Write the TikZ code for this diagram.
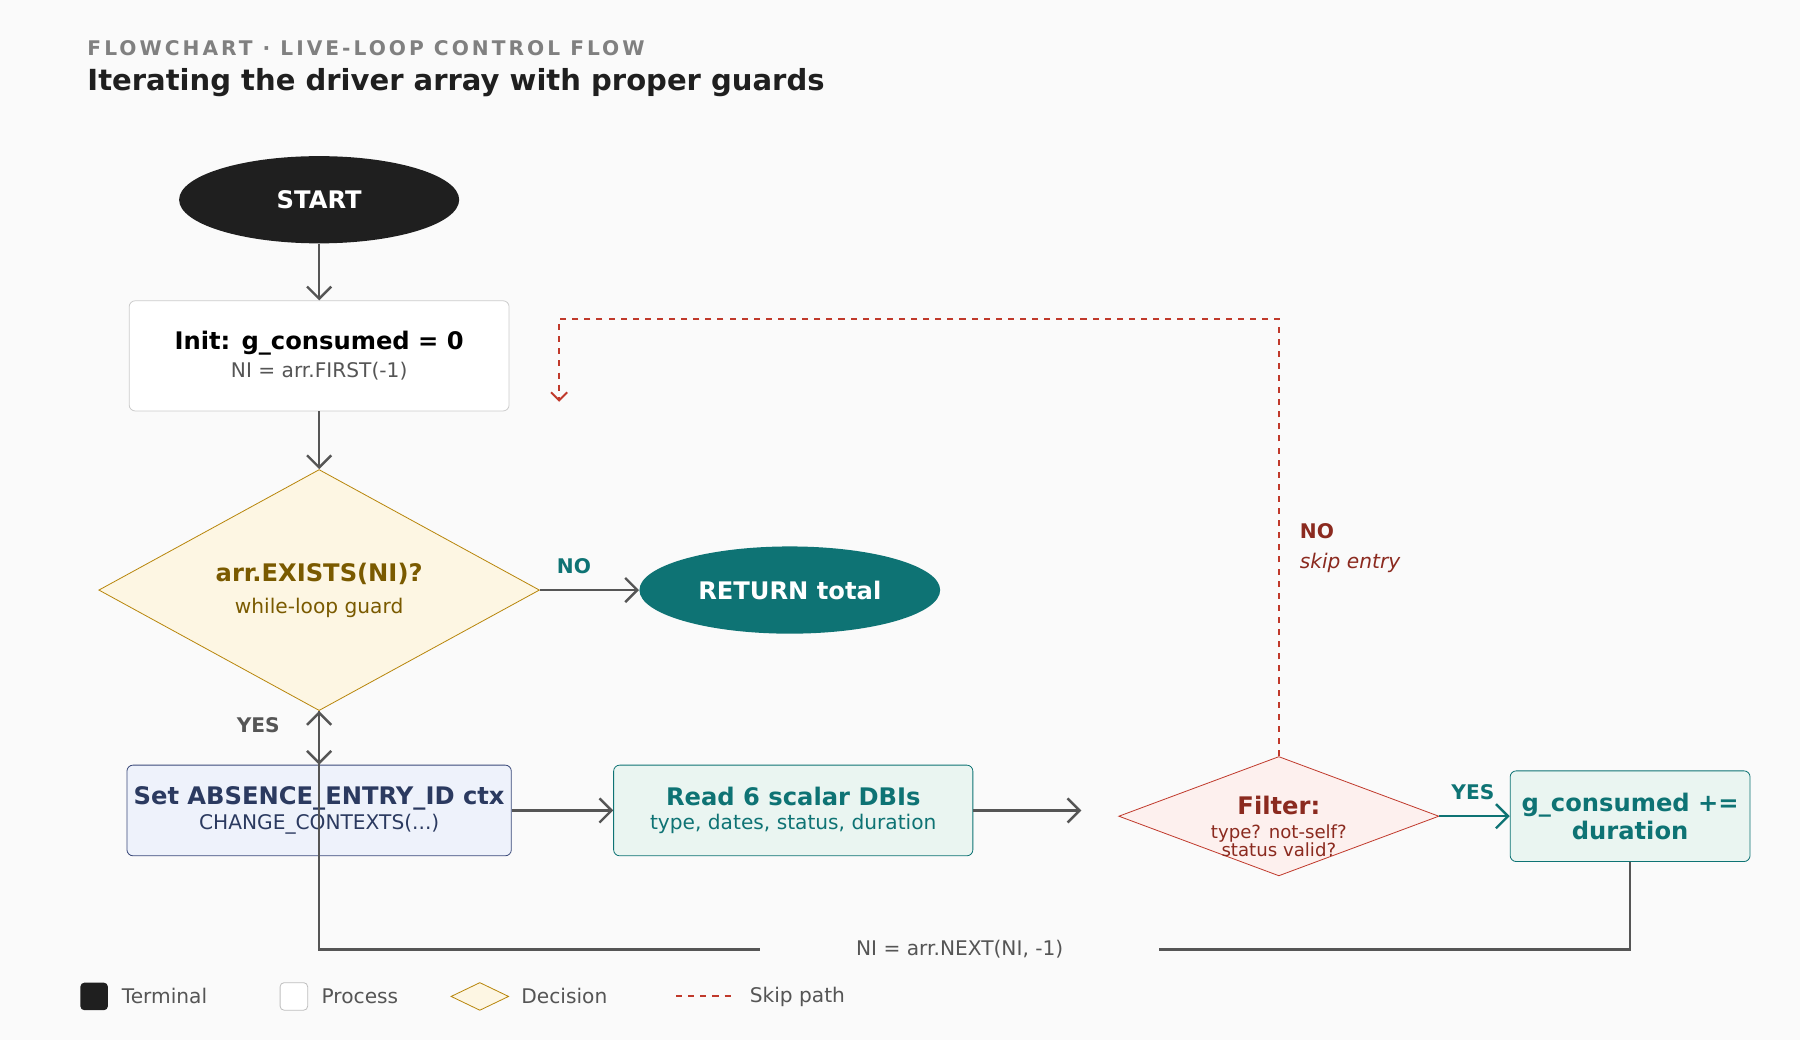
\documentclass[tikz,border=0pt]{standalone}
\usepackage{fontspec}
\setmainfont{DejaVu Sans}
\usetikzlibrary{shapes.geometric,arrows.meta}
\definecolor{ink}{HTML}{1F1F1F}
\definecolor{teal}{HTML}{0E7374}
\definecolor{gold}{HTML}{B8860B}
\definecolor{goldtxt}{HTML}{7A5A00}
\definecolor{goldbg}{HTML}{FDF6E3}
\definecolor{navy}{HTML}{3B4A7A}
\definecolor{navytxt}{HTML}{2B3A60}
\definecolor{navybg}{HTML}{EEF2FB}
\definecolor{tealbg}{HTML}{EAF5F1}
\definecolor{redl}{HTML}{C0392B}
\definecolor{redtxt}{HTML}{8B2A1F}
\definecolor{redbg}{HTML}{FDF0EE}
\definecolor{grayl}{HTML}{555555}
\tikzstyle{terminal} = [ellipse, minimum width=4.88cm, minimum height=1.52cm,
    text=white, font=\bfseries\large]
\tikzstyle{process} = [draw, rectangle, rounded corners=3pt, align=center]
\tikzstyle{decision} = [draw, diamond, aspect=1.83, inner sep=0pt, align=center]
\tikzstyle{flow} = [draw=grayl, line width=1.2pt, -{Straight Barb[length=6pt,width=12pt]}]
\tikzstyle{skip} = [draw=redl, line width=1pt, dashed, -{Straight Barb[length=4pt,width=8pt]}]
\tikzstyle{lbl} = [font=\bfseries, inner sep=0pt]

\begin{document}
\begin{tikzpicture}[x=0.02cm,y=-0.02cm]
                \fill[black!2] (0,0) rectangle (1568,906);
                \node[anchor=west, text=gray, font=\bfseries\addfontfeature{LetterSpace=15}] at (70,42) {FLOWCHART · LIVE-LOOP CONTROL FLOW};
                \node[anchor=west, text=ink, font=\bfseries\Large] at (70,72) {Iterating the driver array with proper guards};
                % main column
                \node [terminal, fill=ink] (start) at (278,174) {START};
                \node [process, draw=black!20, fill=white, minimum width=6.62cm, minimum height=1.92cm] (init) at (278,310)
                    {{\bfseries\large Init: g\_consumed = 0}\\[2pt]{\color{grayl}NI = arr.FIRST(-1)}};
                \node [decision, draw=gold, fill=goldbg, minimum width=7.68cm, minimum height=4.2cm] (guard) at (278,514)
                    {\textcolor{goldtxt}{\bfseries\large arr.EXISTS(NI)?}\\[4pt]\textcolor{goldtxt}{while-loop guard}};
                \node [terminal, fill=teal, minimum width=5.24cm] (ret) at (688,514) {RETURN total};
                \node [process, draw=navy, fill=navybg, minimum width=6.62cm, minimum height=1.58cm] (setctx) at (278,706)
                    {\textcolor{navytxt}{\bfseries\large Set ABSENCE\_ENTRY\_ID ctx}\\\textcolor{navytxt}{CHANGE\_CONTEXTS(...)}};
                \node [process, draw=teal, fill=tealbg, minimum width=6.26cm, minimum height=1.58cm] (read) at (691,706)
                    {\textcolor{teal}{\bfseries\large Read 6 scalar DBIs}\\\textcolor{teal}{type, dates, status, duration}};
                \node [decision, draw=redl, fill=redbg, minimum width=5.58cm, minimum height=2.08cm] (filter) at (1114,711) {};
                \node [text=redtxt, align=center, font=\small] at (1114,720)
                    {{\bfseries\large Filter:}\\[1pt]type? not-self?\\[-2pt]status valid?};
                \node [process, draw=teal, fill=tealbg, minimum width=4.18cm, minimum height=1.58cm] (acc) at (1420,711)
                    {\textcolor{teal}{\bfseries\large g\_consumed +=}\\[2pt]\textcolor{teal}{\bfseries\large duration}};
                % connectors
                \coordinate (readend) at (942,706);
                \coordinate (skipend) at (487,350);
                \coordinate (loopr) at (1420,827);
                \coordinate (loopl) at (278,827);
                \draw [flow] (start) -- (init);
                \draw [flow] (init) -- (guard);
                \draw [flow] (guard) -- (ret);
                \draw [flow] (guard) -- (setctx);
                \draw [flow] (setctx) -- (read);
                \draw [flow] (read) -- (readend);
                \draw [flow, draw=teal] (filter) -- (acc);
                \node [text=grayl] (next) at (836,827) {NI = arr.NEXT(NI, -1)};
                \draw [draw=grayl, line width=1.2pt] (acc.south) -- (loopr) -- (1010,827);
                \draw [flow] (662,827) -- (loopl) -- (guard.south);
                \draw [skip] (filter.north) |- (1114,278) -| (skipend);
                % labels
                \node [lbl, text=teal] at (500,493) {NO};
                \node [lbl, text=grayl] at (225,632) {YES};
                \node [lbl, text=teal] at (1283,690) {YES};
                \node [lbl, text=redtxt, anchor=west] at (1132,463) {NO};
                \node [text=redtxt, anchor=west, inner sep=0pt, font=\itshape] at (1132,490) {skip entry};
                % legend
                \fill [ink, rounded corners=2pt] (70,856) rectangle (94,880);
                \node [anchor=west, text=grayl] at (100,868) {Terminal};
                \draw [black!25, fill=white, rounded corners=2pt] (244,856) rectangle (268,880);
                \node [anchor=west, text=grayl] at (274,868) {Process};
                \draw [gold, fill=goldbg] (393,868) -- (418,856) -- (443,868) -- (418,880) -- cycle;
                \node [anchor=west, text=grayl] at (448,868) {Decision};
                \draw [redl, line width=1pt, dashed] (589,868) -- (641,868);
                \node [anchor=west, text=grayl] at (647,868) {Skip path};
            \end{tikzpicture}
\end{document}
